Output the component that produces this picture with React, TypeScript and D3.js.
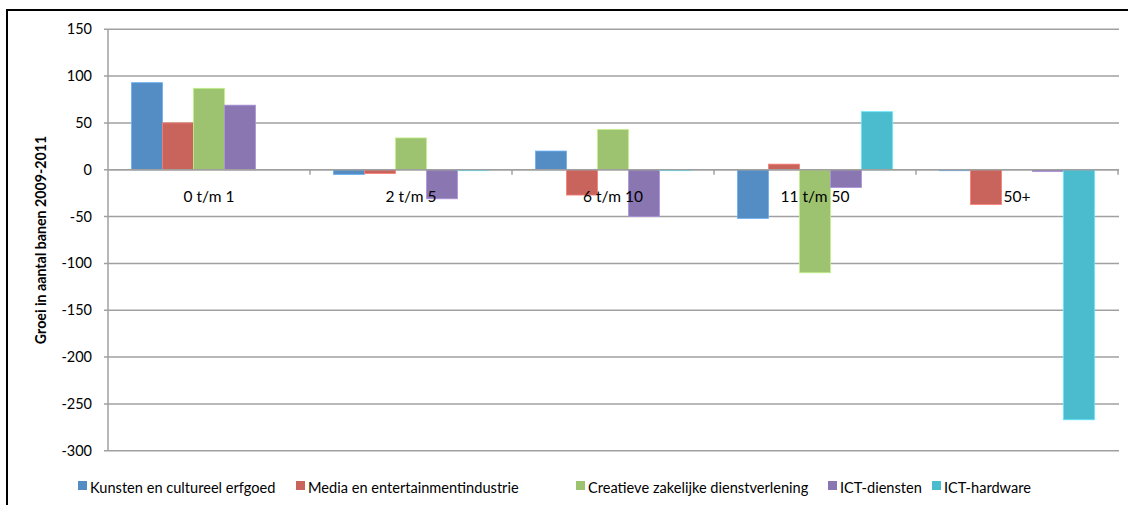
import React from "react";
import * as d3 from "d3";

const categories = ["0 t/m 1", "2 t/m 5", "6 t/m 10", "11 t/m 50", "50+"];
const seriesNames = [
  "Kunsten en cultureel erfgoed",
  "Media en entertainmentindustrie",
  "Creatieve zakelijke dienstverlening",
  "ICT-diensten",
  "ICT-hardware",
];
const kunsten = [93, -5, 20, -52, -1];
const media = [50, -4, -27, 6, -37];
const creatieve = [87, 34, 43, -110, 0];
const ictDiensten = [69, -31, -50, -19, -2];
const ictHardware = [0, -1, -1, 62, -267];
const seriesValues = [kunsten, media, creatieve, ictDiensten, ictHardware];
const colors = ["#548DC4", "#C8645C", "#9DC370", "#8A76B0", "#4BBBCE"];
const yTicks = [150, 100, 50, 0, -50, -100, -150, -200, -250, -300];
const yLabel = "Groei in aantal banen 2009-2011";

const W = 1128;
const H = 505;
const FONT = "Lato, 'Open Sans', sans-serif";
const legendX = [78, 296, 576, 828, 932];

export default function App() {
  const plotL = 108;
  const plotR = 1118;
  const y = d3.scaleLinear().domain([-300, 150]).range([450.7, 29.3]);
  const pi = 47 / 202;
  const x0 = d3
    .scaleBand<string>()
    .domain(categories)
    .range([plotL, plotR])
    .paddingInner(pi)
    .paddingOuter(pi / 2);
  const x1 = d3
    .scaleBand<string>()
    .domain(seriesNames)
    .range([0, x0.bandwidth()]);
  const step = x0.step();
  const y0 = y(0);

  return (
    <svg
      width={W}
      height={H}
      style={{ position: "absolute", left: 0, top: 0, background: "#fff" }}
      fontFamily={FONT}
    >
      <rect x={0} y={0} width={W} height={H} fill="#fff" />
      {/* frame */}
      <rect x={7} y={10} width={W + 20} height={H + 20} fill="none" stroke="#000" strokeWidth={2} />
      {/* gridlines */}
      {yTicks.map((t) => (
        <g key={t}>
          <line x1={plotL - 4} x2={plotR + 1} y1={y(t)} y2={y(t)} stroke="#a0a0a0" strokeWidth={1.5} />
          <text x={92} y={y(t)} dy="0.35em" textAnchor="end" fontSize={14.5} fill="#000">
            {t}
          </text>
        </g>
      ))}
      {/* y axis */}
      <line x1={plotL} x2={plotL} y1={y(150)} y2={y(-300)} stroke="#a0a0a0" strokeWidth={1.5} />
      {/* bars */}
      {categories.map((c, ci) => (
        <g key={c} transform={`translate(${x0(c)},0)`}>
          {seriesNames.map((s, si) => {
            const v = seriesValues[si][ci];
            if (v === 0) return null;
            const yy = Math.min(y(v), y0);
            const hh = Math.abs(y(v) - y0);
            return (
              <rect
                key={s}
                x={x1(s)}
                y={yy}
                width={x1.bandwidth()}
                height={hh}
                fill={colors[si]}
                stroke={d3.color(colors[si])!.brighter(0.6).toString()}
                strokeWidth={0.8}
              />
            );
          })}
        </g>
      ))}
      {/* zero axis */}
      <line x1={plotL} x2={plotR + 1} y1={y0} y2={y0} stroke="#a0a0a0" strokeWidth={1.5} />
      {d3.range(1, categories.length + 1).map((k) => (
        <line
          key={k}
          x1={plotL + k * step}
          x2={plotL + k * step}
          y1={y0}
          y2={y0 + 5}
          stroke="#a0a0a0"
          strokeWidth={1.5}
        />
      ))}
      {/* category labels */}
      {categories.map((c) => (
        <text
          key={c}
          x={(x0(c) as number) + x0.bandwidth() / 2}
          y={202}
          textAnchor="middle"
          fontSize={15.5}
          fill="#000"
        >
          {c}
        </text>
      ))}
      {/* y label */}
      <text
        transform={`translate(46,${(y(150) + y(-300)) / 2}) rotate(-90)`}
        textAnchor="middle"
        fontSize={14.2}
        fontWeight="bold"
        fill="#000"
      >
        {yLabel}
      </text>
      {/* legend */}
      {seriesNames.map((s, i) => (
        <g key={s}>
          <rect x={legendX[i]} y={481} width={9} height={9} fill={colors[i]} />
          <text x={legendX[i] + 12} y={493} fontSize={14.6} fill="#000">
            {s}
          </text>
        </g>
      ))}
    </svg>
  );
}
